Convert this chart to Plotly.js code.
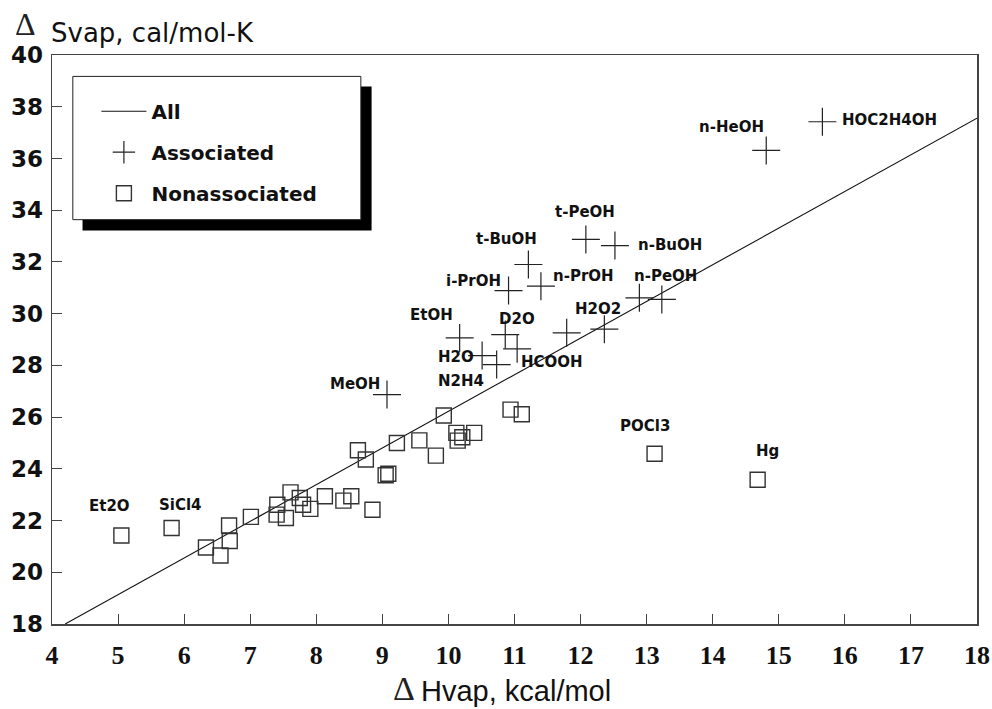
<!DOCTYPE html>
<html>
<head>
<meta charset="utf-8">
<script src="https://cdn.plot.ly/plotly-3.0.1.min.js"></script>
<style>html,body{margin:0;padding:0;background:#fff;}#chart{width:992px;height:709px;}</style>
</head>
<body>
<div id="chart"></div>
<script>
// ---- data ----
const fitX = [4.2, 18];
const fitY = [18.0, 37.56];

const assocX = [9.07, 10.17, 10.51, 10.73, 10.86, 11.04, 10.91, 11.21, 11.40, 12.08, 12.52, 11.79, 12.36, 12.89, 13.23, 14.81, 15.66];
const assocY = [26.87, 29.06, 28.38, 28.03, 29.19, 28.64, 30.89, 31.90, 31.06, 32.87, 32.63, 29.26, 29.40, 30.61, 30.55, 36.31, 37.42];

const nonassocX = [5.05, 5.81, 6.33, 6.55, 6.68, 6.69, 7.01, 7.41, 7.40, 7.61, 7.54, 7.75, 7.80, 7.91, 8.13, 8.41, 8.53, 8.85, 8.63, 8.75, 9.22, 9.56, 9.81, 9.93, 9.05, 9.09, 10.12, 10.21, 10.14, 10.39, 10.94, 11.11, 13.12, 14.68];
const nonassocY = [21.42, 21.71, 20.96, 20.65, 21.81, 21.21, 22.14, 22.61, 22.23, 23.09, 22.10, 22.87, 22.61, 22.45, 22.94, 22.77, 22.94, 22.42, 24.72, 24.36, 25.00, 25.10, 24.51, 26.06, 23.75, 23.81, 25.39, 25.22, 25.09, 25.39, 26.29, 26.11, 24.58, 23.58];

const labelText = ["Et2O", "SiCl4", "MeOH", "N2H4", "H2O", "EtOH", "D2O", "HCOOH", "i-PrOH", "t-BuOH", "n-PrOH", "n-PeOH", "H2O2", "n-BuOH", "t-PeOH", "n-HeOH", "HOC2H4OH", "POCl3", "Hg"];
const labelX = [4.87, 5.95, 8.59, 10.19, 10.11, 9.745, 11.04, 11.56, 10.38, 10.88, 12.05, 13.29, 12.26, 13.35, 12.07, 14.28, 16.67, 12.98, 14.83];
const labelY = [22.58, 22.59, 27.28, 27.38, 28.33, 29.94, 29.80, 28.12, 31.25, 32.87, 31.45, 31.47, 30.19, 32.64, 33.92, 37.21, 37.48, 25.67, 24.68];

const legendNames = ["All", "Associated", "Nonassociated"];
const xTitle = "Hvap, kcal/mol";
const yTitle = "Svap, cal/mol-K";

// ---- traces ----
const traces = [
  {x: fitX, y: fitY, mode: "lines", name: legendNames[0], legendgroup: "a",
   line: {color: "#111", width: 1.1}, hoverinfo: "skip"},
  {x: assocX, y: assocY, mode: "markers", name: legendNames[1], legendgroup: "b",
   marker: {symbol: "cross-thin-open", size: 20, color: "#222", line: {color: "#222", width: 1.2}}},
  {x: nonassocX, y: nonassocY, mode: "markers", name: legendNames[2], legendgroup: "c",
   marker: {symbol: "square-open", size: 15, color: "#333", line: {color: "#333", width: 1.4}}}
];

const annotations = labelText.map((t, i) => ({
  x: labelX[i], y: labelY[i], xref: "x", yref: "y", text: t, showarrow: false,
  xanchor: "center", yanchor: "middle",
  font: {family: "DejaVu Sans", size: 15, weight: 700, color: "#111"}
}));

annotations.push(
  {xref: "paper", yref: "paper", x: -0.015, y: 1.054, text: "Δ", showarrow: false, xanchor: "right", yanchor: "middle",
   font: {family: "Liberation Sans Narrow", size: 32, color: "#222"}},
  {xref: "paper", yref: "paper", x: -0.003, y: 1.039, text: yTitle, showarrow: false, xanchor: "left", yanchor: "middle",
   font: {family: "DejaVu Sans", size: 26, color: "#111"}},
  {xref: "paper", yref: "paper", x: 0.395, y: -0.113, text: "Δ", showarrow: false, xanchor: "right", yanchor: "middle",
   font: {family: "Liberation Sans Narrow", size: 34, color: "#222"}},
  {xref: "paper", yref: "paper", x: 0.397, y: -0.117, text: xTitle, showarrow: false, xanchor: "left", yanchor: "middle",
   font: {family: "Liberation Sans", size: 29, color: "#111"}}
);

const shapes = [
  {type: "rect", xref: "paper", yref: "paper", x0: 0.033, x1: 0.3455, y0: 0.6917, y1: 0.9448,
   fillcolor: "#000", line: {width: 0}, layer: "above"},
  {type: "rect", xref: "paper", yref: "paper", x0: 0.0225, x1: 0.3339, y0: 0.7106, y1: 0.9624,
   fillcolor: "#fff", line: {color: "#222", width: 1}, layer: "above"}
];

const layout = {
  width: 992, height: 709,
  margin: {l: 52, r: 15, t: 55, b: 85},
  paper_bgcolor: "#fff", plot_bgcolor: "#fff",
  showlegend: true,
  legend: {x: 0.048, y: 0.9355, xanchor: "left", yanchor: "top", bgcolor: "rgba(0,0,0,0)",
           borderwidth: 0, tracegroupgap: 12, itemwidth: 45,
           font: {family: "DejaVu Sans", size: 20, weight: 700, color: "#111"}},
  xaxis: {range: [4, 18], dtick: 1, tick0: 4, showgrid: false, zeroline: false,
          showline: true, mirror: true, linecolor: "#444", linewidth: 1.5,
          ticks: "inside", ticklen: 10, tickwidth: 1, tickcolor: "#444",
          ticklabelstandoff: 7,
          tickfont: {family: "Liberation Sans Narrow", size: 26, weight: 700, color: "#111"}},
  yaxis: {range: [18, 40], dtick: 2, tick0: 18, showgrid: false, zeroline: false,
          showline: true, mirror: true, linecolor: "#444", linewidth: 1.5,
          ticks: "inside", ticklen: 10, tickwidth: 1, tickcolor: "#444",
          ticklabelstandoff: 3,
          tickfont: {family: "DejaVu Sans", size: 23, weight: 700, color: "#111"}},
  annotations: annotations,
  shapes: shapes
};

Plotly.newPlot("chart", traces, layout, {displayModeBar: false, staticPlot: true});
</script>
</body>
</html>
